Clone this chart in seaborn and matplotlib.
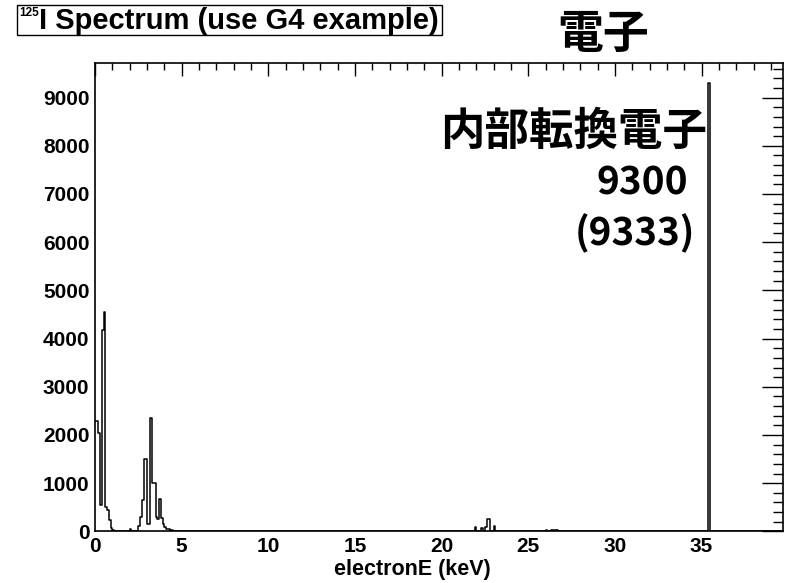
import numpy as np
import pandas as pd
import matplotlib
matplotlib.use("Agg")
import matplotlib.pyplot as plt
from matplotlib.ticker import MultipleLocator
from matplotlib.patches import Rectangle
import seaborn as sns

# ---- data (bin centres in keV, counts per 0.1 keV bin) ----
energy_keV = [0.05, 0.15, 0.25, 0.35, 0.45, 0.55, 0.65, 0.75, 0.85, 0.95, 1.05,
              2.05, 2.55, 2.65, 2.75, 2.85, 2.95, 3.05, 3.15, 3.25, 3.35, 3.45,
              3.55, 3.65, 3.75, 3.85, 3.95, 4.05, 4.15, 4.25, 4.45,
              21.95, 22.35, 22.55, 22.65, 22.75, 23.05,
              26.05, 26.35, 26.45, 26.55, 26.65,
              35.45]
counts = [2300, 2290, 2050, 550, 4180, 4560, 500, 450, 240, 65, 20,
          60, 120, 300, 650, 1500, 1500, 150, 150, 2350, 1010, 1010,
          300, 250, 670, 280, 150, 100, 60, 40, 30,
          100, 70, 90, 263, 263, 118,
          35, 20, 20, 20, 20,
          9300]
bin_width = 0.1
x_max = 39.7
y_max = 9724
x_ticks = [0, 5, 10, 15, 20, 25, 30, 35]
y_ticks = [0, 1000, 2000, 3000, 4000, 5000, 6000, 7000, 8000, 9000]
title_sup = "125"
title_main = "I Spectrum (use G4 example)"
x_label = "electronE (keV)"
header = "電子"
note_lines = ["内部転換電子", "9300", "(9333)"]

df = pd.DataFrame({"energy": energy_keV, "count": counts})

sns.set_style("white")
plt.rcParams["font.family"] = ["Liberation Sans", "DejaVu Sans"]
plt.rcParams["font.weight"] = "bold"
plt.rcParams["text.color"] = "black"
plt.rcParams["xtick.color"] = "black"
plt.rcParams["ytick.color"] = "black"
plt.rcParams["xtick.labelcolor"] = "black"
plt.rcParams["ytick.labelcolor"] = "black"

W, H = 785, 583
fig = plt.figure(figsize=(W / 100, H / 100), dpi=100)
L, R, B, T = 95, 783, 531.4, 62.7
ax = fig.add_axes([L / W, 1 - B / H, (R - L) / W, (B - T) / H])

sns.histplot(data=df, x="energy", weights="count", binwidth=bin_width,
             binrange=(0, x_max), element="step", fill=False,
             color="black", linewidth=1.1, ax=ax)

ax.set_xlim(0, x_max)
ax.set_ylim(0, y_max)
ax.set_xticks(x_ticks)
ax.set_yticks(y_ticks)
ax.xaxis.set_minor_locator(MultipleLocator(1))
ax.yaxis.set_minor_locator(MultipleLocator(200))
ax.set_xlabel("")
ax.set_ylabel("")
for s in ax.spines.values():
    s.set_linewidth(1.2)
    s.set_color("black")
ax.tick_params(which="both", direction="in", top=True, right=True, color="black", width=1.0)
ax.tick_params(axis="x", which="major", length=9.5, labelsize=15, pad=4)
ax.tick_params(axis="x", which="minor", length=4.7)
ax.tick_params(axis="y", which="major", length=15, labelsize=15, pad=4)
ax.tick_params(axis="y", which="minor", length=7.5)
for lab in ax.get_xticklabels() + ax.get_yticklabels():
    lab.set_fontweight("bold")
    lab.set_color("black")

def fx(px):
    return px / W

def fy(py):
    return 1 - py / H

# x axis title
fig.text(fx(412), fy(569), x_label, ha="center", va="center", fontsize=15.5,
         fontweight="bold", color="black")

# title box
fig.patches.append(Rectangle((fx(17), fy(35)), fx(442) - fx(17), fy(5) - fy(35),
                             transform=fig.transFigure, facecolor="white",
                             edgecolor="black", linewidth=1.0))
fig.text(fx(39), fy(13), title_sup, ha="right", va="center", fontsize=8.5,
         fontweight="bold", color="black")
fig.text(fx(39), fy(21), title_main, ha="left", va="center", fontsize=21,
         fontweight="bold", color="black")

# Japanese header and annotation
jp = ["Noto Sans CJK JP", "DejaVu Sans"]
fig.text(fx(603), fy(35), header, ha="center", va="center", fontsize=33,
         fontweight="bold", family=jp, color="black")
fig.text(fx(707), fy(132), note_lines[0], ha="right", va="center", fontsize=32,
         fontweight="bold", family=jp, color="black")
fig.text(fx(688), fy(183), note_lines[1], ha="right", va="center", fontsize=28,
         fontweight="bold", family=jp, color="black")
fig.text(fx(695), fy(233), note_lines[2], ha="right", va="center", fontsize=28,
         fontweight="bold", family=jp, color="black")

fig.savefig("out.png", dpi=100)
